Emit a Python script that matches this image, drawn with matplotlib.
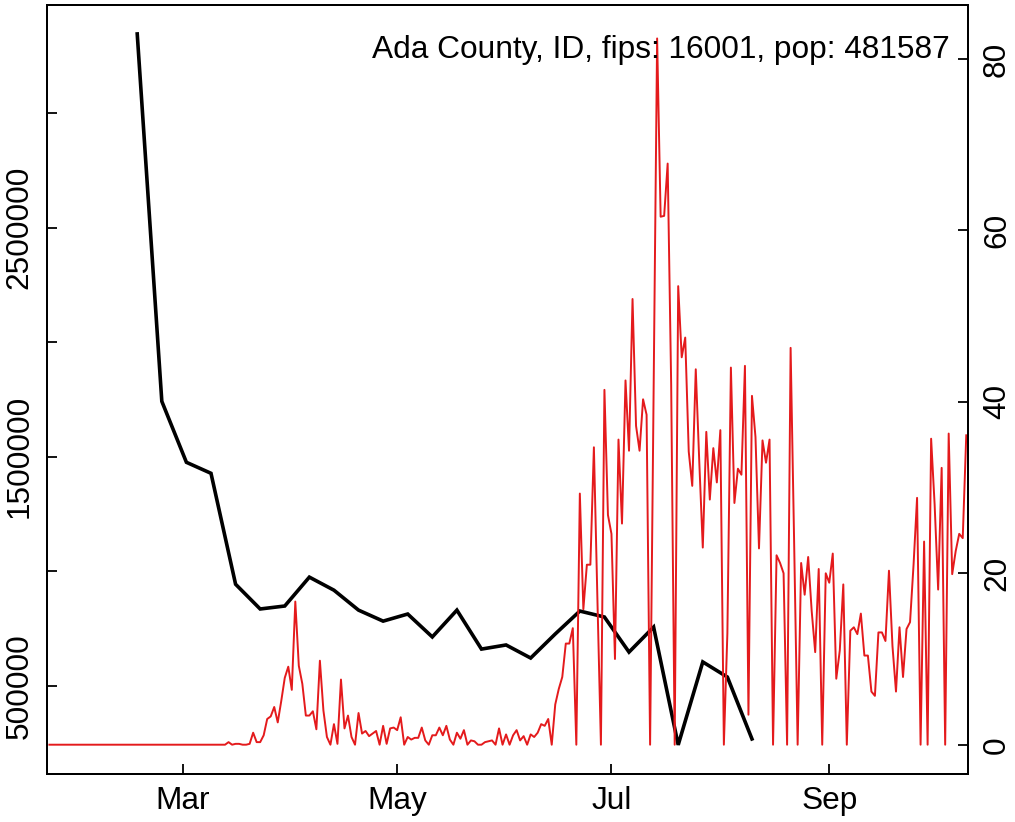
import numpy as np
import pandas as pd
import matplotlib
matplotlib.use("Agg")
import matplotlib.pyplot as plt
import matplotlib.dates as mdates

plt.rcParams['font.family'] = ['Liberation Sans', 'DejaVu Sans']

# weekly series (left axis), starting 2020-02-17
weekly_start = "2020-02-17"
weekly_vals = [3345000, 1742000, 1476000, 1428000, 944000, 836000, 849000,
               975000, 918000, 831000, 783000, 814000, 714000, 831000,
               661000, 679000, 622000, 727000, 827000, 801000, 648000,
               757000, 243000, 605000, 539000, 269000]

# daily series (right axis), starting 2020-01-23
daily_start = "2020-01-23"
daily_vals = [0] * 50 + [
    0, 0.3, 0, 0.1, 0.1, 0, 0, 0.1, 1.4, 0.3,
    0.3, 1.1, 3.0, 3.3, 4.4, 2.6, 5.1, 7.8, 9.1, 6.4,
    16.7, 9.2, 7.1, 3.4, 3.4, 3.9, 1.8, 9.8, 4.0, 0.9,
    0, 2.4, 0.1, 7.6, 1.9, 3.4, 0.9, 0, 3.7, 1.3,
    1.6, 1.0, 1.3, 1.6, 0, 2.2, 0.1, 1.9, 2.0, 1.7,
    3.2, 0, 0.9, 0.6, 0.8, 0.8, 2.0, 0.5, 0, 1.1,
    1.1, 2.0, 1.1, 2.2, 0.6, 0, 1.4, 0.7, 1.7, 0,
    0.5, 0.4, 0, 0, 0.3, 0.4, 0.5, 0, 1.9, 0,
    1.2, 0, 1.1, 1.7, 0.5, 1.0, 0, 1.2, 0.9, 1.4,
    2.4, 2.2, 3.0,
    0, 4.7, 6.5, 7.9, 11.8, 11.8, 13.6, 0, 29.3, 15.8,
    21, 21, 34.7, 17, 0, 41.4, 26.8, 24.6, 10, 35.6,
    25.8, 42.5, 34.3, 52, 37.2, 34.3, 40.3, 38.5, 0, 41,
    82.4, 61.6, 61.7, 67.8, 42, 0, 53.5, 45.2, 47.5, 34.2,
    30.2, 43.8, 33, 23, 36.5, 28.6, 34.6, 30.6, 36.7, 0,
    13, 44, 28.2, 32.2, 31.5, 44.2, 3.5, 40.7, 35.9, 22.9,
    35.5, 32.9, 35.6, 0, 22.1, 21.2, 20, 0, 46.3, 23.7,
    0, 21.2, 17.5, 21.9, 15.6, 10.8, 20.5, 0, 20, 18.9,
    22.3, 7.7, 11, 18.7, 0, 13.3, 13.7, 12.9, 15.3, 10.4,
    10.4, 6.2, 5.7, 13.1, 13.1, 12.1, 20.3, 11.5, 6.2, 13.7,
    7.9, 13.5, 14.3, 21, 28.8, 0, 23.7, 0, 35.7, 28,
    18.1, 32.3, 0, 36.3, 19.9, 22.6, 24.6, 24.1, 36.1]

left_ticks = [500000, 1000000, 1500000, 2000000, 2500000, 3000000]
left_labels = ["500000", "", "1500000", "", "2500000", ""]
right_ticks = [0, 20, 40, 60, 80]
month_ticks = ["2020-03-01", "2020-05-01", "2020-07-01", "2020-09-01"]
month_labels = ["Mar", "May", "Jul", "Sep"]
title = "Ada County, ID, fips: 16001, pop: 481587"

weekly_dates = pd.date_range(weekly_start, periods=len(weekly_vals), freq="7D")
daily_dates = pd.date_range(daily_start, periods=len(daily_vals), freq="D")

fig = plt.figure(figsize=(10.15, 8.22), dpi=100)
ax = fig.add_axes([0.0466, 0.059, 0.9071, 0.9349])
ax2 = ax.twinx()

ax.plot(weekly_dates, weekly_vals, color="black", lw=2.6, solid_joinstyle="miter")
ax2.plot(daily_dates, daily_vals, color="#E41A1C", lw=1.4)

mar1 = mdates.date2num(pd.Timestamp("2020-03-01"))
ax.set_xlim(mar1 - 38.6, mar1 + 223.5)
ax.set_ylim(118200, 3471200)
ax2.set_ylim(-3.36, 86.3)

fs = 22.8
ax.set_xticks([mdates.date2num(pd.Timestamp(d)) for d in month_ticks])
ax.set_xticklabels(month_labels, fontsize=fs)
ax.set_yticks(left_ticks)
ax.set_yticklabels(left_labels, fontsize=fs, rotation=90, va="center")
ax2.set_yticks(right_ticks)
ax2.set_yticklabels([str(t) for t in right_ticks], fontsize=fs, rotation=90, va="center")

ax.tick_params(axis="both", direction="in", length=7, width=1.3, pad=9)
ax2.tick_params(axis="y", direction="in", length=7, width=1.3, pad=10)
for a in (ax, ax2):
    for s in a.spines.values():
        s.set_linewidth(1.4)

fig.text(950 / 1015, 1 - 58 / 822, title, ha="right", va="baseline", fontsize=fs)

fig.savefig("out.png", dpi=100)
